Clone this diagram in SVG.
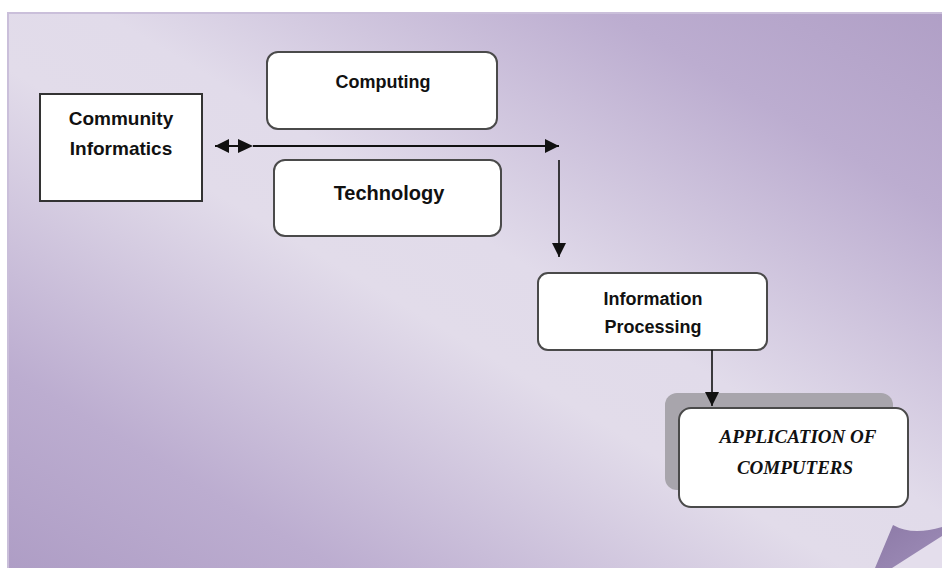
<svg xmlns="http://www.w3.org/2000/svg" width="942" height="568" viewBox="0 0 942 568">
<defs>
<linearGradient id="pageGrad" x1="0" y1="1" x2="1" y2="0">
<stop offset="0" stop-color="#ae9dc5"/>
<stop offset="0.18" stop-color="#bcadd0"/>
<stop offset="0.45" stop-color="#e2dcea"/>
<stop offset="0.55" stop-color="#e1dbea"/>
<stop offset="0.82" stop-color="#bcadd0"/>
<stop offset="1" stop-color="#b09fc6"/>
</linearGradient>
<linearGradient id="curlGrad" x1="0" y1="0" x2="1" y2="1">
<stop offset="0" stop-color="#8d7aa7"/>
<stop offset="1" stop-color="#9e8db8"/>
</linearGradient>
<marker id="arrowEnd" markerUnits="userSpaceOnUse" markerWidth="16" markerHeight="14" refX="14" refY="7" orient="auto">
<path d="M0,0 L14,7 L0,14 Z" fill="#111"/>
</marker>
<marker id="arrowStart" markerUnits="userSpaceOnUse" markerWidth="16" markerHeight="14" refX="0" refY="7" orient="auto">
<path d="M14,0 L0,7 L14,14 Z" fill="#111"/>
</marker>
</defs>
<style>
.box{fill:#ffffff;stroke:#4a4a4a;stroke-width:2}
.lbl{font-family:"Liberation Sans",Arial,sans-serif;font-weight:bold;font-size:18px;fill:#111;text-anchor:middle}
.big{font-size:19px}
.tech{font-size:20px}
.app{font-family:"Liberation Serif","Times New Roman",serif;font-weight:bold;font-style:italic;font-size:19px;fill:#111;text-anchor:middle}
.conn{stroke:#111;stroke-width:2;fill:none}
.thin{stroke-width:1.6}
</style>
<rect x="0" y="0" width="942" height="568" fill="#ffffff"/>
<rect x="8" y="13" width="940" height="560" fill="url(#pageGrad)" stroke="#cabfda" stroke-width="2"/>
<path d="M892,568 L942,536 L942,568 Z" fill="#e4deec"/>
<path d="M875,568 L893,525 Q912,536 942,527 L942,536 L892,568 Z" fill="url(#curlGrad)"/>

<g id="community">
<rect x="40" y="94" width="162" height="107" fill="#ffffff" stroke="#333" stroke-width="2"/>
<text class="lbl big" x="121" y="125">Community</text>
<text class="lbl big" x="121" y="155">Informatics</text>
</g>
<g id="computing">
<rect class="box" x="267" y="52" width="230" height="77" rx="11"/>
<text class="lbl" x="383" y="88">Computing</text>
</g>
<g id="technology">
<rect class="box" x="274" y="160" width="227" height="76" rx="11"/>
<text class="lbl tech" x="389" y="200">Technology</text>
</g>
<g id="information-processing">
<rect class="box" x="538" y="273" width="229" height="77" rx="10"/>
<text class="lbl" x="653" y="305">Information</text>
<text class="lbl" x="653" y="333">Processing</text>
</g>
<g id="application">
<rect x="665" y="393" width="228" height="97" rx="12" fill="#a8a5ac"/>
<rect class="box" x="679" y="408" width="229" height="99" rx="12"/>
<text class="app" x="798" y="443">APPLICATION OF</text>
<text class="app" x="795" y="474">COMPUTERS</text>
</g>

<g id="connectors">
<line class="conn" x1="215" y1="146" x2="239" y2="146" marker-start="url(#arrowStart)"/>
<path d="M238,139 L253,146 L238,153 Z" fill="#111"/>
<line class="conn" x1="253" y1="146" x2="559" y2="146" marker-end="url(#arrowEnd)"/>
<line class="conn thin" x1="559" y1="160" x2="559" y2="257" marker-end="url(#arrowEnd)"/>
<line class="conn thin" x1="712" y1="350" x2="712" y2="406" marker-end="url(#arrowEnd)"/>
</g>
</svg>
